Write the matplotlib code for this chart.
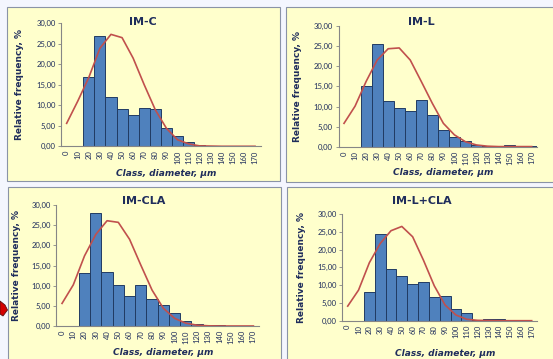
import matplotlib
matplotlib.use("Agg")
import matplotlib.pyplot as plt
import numpy as np
from matplotlib.patches import Rectangle, Polygon

# class labels (diameter, um)
classes = [0, 10, 20, 30, 40, 50, 60, 70, 80, 90, 100, 110, 120, 130, 140, 150, 160, 170]

titles = ["IM-C", "IM-L", "IM-CLA", "IM-L+CLA"]

# relative frequency, %
freq_imc = [0, 0, 16.8, 26.8, 12.0, 9.1, 7.6, 9.3, 9.1, 4.5, 2.5, 1.0, 0.3, 0.15, 0, 0, 0, 0]
freq_iml = [0, 0, 15.2, 25.4, 11.4, 9.6, 8.8, 11.6, 7.8, 4.1, 2.5, 1.6, 0.5, 0.25, 0.2, 0.5, 0.3, 0.25]
freq_imcla = [0, 0, 13.1, 27.9, 13.3, 10.1, 7.4, 10.1, 6.7, 5.2, 3.2, 1.2, 0.4, 0.2, 0.3, 0, 0, 0]
freq_imlcla = [0, 0, 8.2, 24.3, 14.5, 12.5, 10.2, 10.8, 6.7, 6.9, 3.3, 2.1, 0.2, 0.4, 0.4, 0, 0, 0]

# fitted normal curve (same scale as the bars)
fit_imc = [5.6, 11.0, 16.8, 23.9, 27.3, 26.5, 21.5, 15.0, 8.9, 4.4, 1.6, 0.6, 0.1, 0.05, 0, 0, 0, 0]
fit_iml = [5.85, 10.1, 16.2, 21.5, 24.3, 24.5, 21.5, 16.2, 10.8, 5.85, 3.0, 1.3, 0.5, 0.2, 0.1, 0.1, 0.1, 0.1]
fit_imcla = [5.6, 10.2, 17.4, 22.7, 26.1, 25.7, 21.5, 15.1, 8.9, 4.4, 1.9, 0.7, 0.2, 0.05, 0, 0, 0, 0]
fit_imlcla = [4.1, 8.6, 16.3, 21.7, 25.3, 26.5, 23.6, 17.0, 9.8, 4.4, 1.6, 0.4, 0.1, 0.05, 0, 0, 0, 0]

freqs = [freq_imc, freq_iml, freq_imcla, freq_imlcla]
fits = [fit_imc, fit_iml, fit_imcla, fit_imlcla]

W, H = 553, 359
fig = plt.figure(figsize=(W / 100, H / 100), dpi=100)
fig.patch.set_facecolor("#F4F6FE")

navy = "#1F2D5C"


def frect(left, right, top, bottom):
    # pixel box -> figure fraction
    return [left / W, 1 - bottom / H, (right - left) / W, (bottom - top) / H]


# yellow panels
panels = [(7, 280, 7, 181), (286, 570, 7, 182), (8, 281, 187, 380), (287, 570, 187, 380)]
for l, r, t, b in panels:
    x, y, w, h = frect(l, r, t, b)
    fig.patches.append(Rectangle((x, y), w, h, transform=fig.transFigure, zorder=-1,
                                 facecolor="#FFFFCC", edgecolor="#8A93A6", lw=0.8))

# plot areas: left, right, top(30), bottom(0)
boxes = [(61.1, 260.6, 23.3, 146.3), (338.5, 537.2, 25.7, 147.0),
         (56.4, 259.0, 205.0, 326.0), (342.3, 537.1, 214.0, 320.7)]
title_pos = [(143, 21.7), (421.7, 21.7), (143.3, 200.7), (421.7, 200.7)]
ylab_x = [20, 297.7, 16.7, 301.7]
xlab_y = [174, 172.7, 352.3, 353.3]

xs = np.arange(len(classes))
for i in range(4):
    l, r, t, b = boxes[i]
    ax = fig.add_axes(frect(l, r, t, b))
    ax.set_facecolor("none")
    ax.bar(xs, freqs[i], width=1.0, color="#4F81BD", edgecolor="#213B63", lw=0.7, zorder=2)
    ax.plot(xs, fits[i], color="#C0504D", lw=1.2, zorder=3)
    ax.set_xlim(-0.5, len(classes) - 0.5)
    ax.set_ylim(0, 30)
    ax.set_yticks(np.arange(0, 31, 5))
    ax.set_yticklabels([f"{v:.2f}".replace(".", ",") for v in np.arange(0, 31, 5)])
    ax.set_xticks(xs)
    ax.set_xticklabels([str(c) for c in classes], rotation=90)
    ax.tick_params(axis="y", labelsize=5.5, colors="#868686", labelcolor=navy, length=2, width=0.6, pad=2)
    ax.tick_params(axis="x", labelsize=5.5, length=0, labelcolor=navy, pad=3)
    for lab in ax.get_xticklabels() + ax.get_yticklabels():
        lab.set_family("Lato")
    for s in ["top", "right"]:
        ax.spines[s].set_visible(False)
    for s in ["left", "bottom"]:
        ax.spines[s].set_color("#868686")
        ax.spines[s].set_linewidth(0.8)

    tx, ty = title_pos[i]
    fig.text(tx / W, 1 - ty / H, titles[i], ha="center", va="center",
             fontsize=8, fontweight="bold", color=navy)
    yc = (t + b) / 2
    fig.text(ylab_x[i] / W, 1 - yc / H, "Relative frequency, %", rotation=90,
             ha="center", va="center", fontsize=6.5, fontweight="bold", color=navy)
    fig.text(((l + r) / 2 + 5) / W, 1 - xlab_y[i] / H, "Class, diameter, \u03bcm",
             ha="center", va="center", fontsize=6.5, fontweight="bold", style="italic", color=navy)

# red arrow tip cut off at the left edge
arrow = [(0, 301), (5, 305), (7.5, 310), (3, 316), (0, 314)]
fig.patches.append(Polygon([(x / W, 1 - y / H) for x, y in arrow], closed=True,
                           transform=fig.transFigure, facecolor="#D40000",
                           edgecolor="#5A1010", lw=0.6))

fig.savefig("out.png", dpi=100, facecolor=fig.get_facecolor())
